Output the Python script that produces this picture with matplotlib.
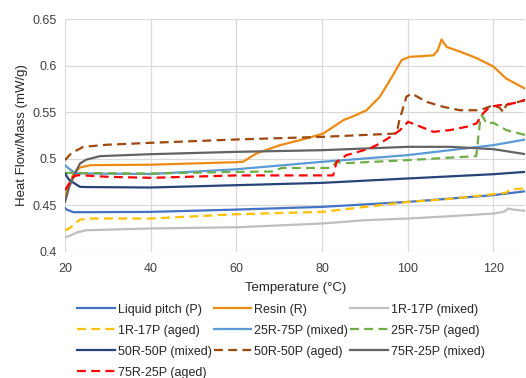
import matplotlib
matplotlib.use("Agg")
import matplotlib.pyplot as plt
from matplotlib.ticker import FuncFormatter

plt.rcParams['font.family'] = ['Liberation Sans', 'DejaVu Sans']

# ---- data ----
lp_T = [20, 20.5, 22, 25, 40, 60, 80, 100, 120, 127.5]
lp_V = [0.447, 0.445, 0.4425, 0.4425, 0.4428, 0.4453, 0.4482, 0.4535, 0.4608, 0.465]

resin_T = [20, 21, 22, 23.5, 26, 40, 60, 61.6, 64.7, 70.2, 76.4, 80.3, 85, 87, 90.4, 93.5,
           96.6, 98.6, 100.5, 103, 106, 107, 107.9, 109.1, 112.2, 116.1, 120, 123, 127.5]
resin_V = [0.459, 0.472, 0.484, 0.4905, 0.493, 0.4935, 0.4962, 0.4968, 0.5056, 0.5145, 0.5217,
           0.527, 0.5414, 0.545, 0.552, 0.5665, 0.590, 0.606, 0.6095, 0.610, 0.611, 0.616,
           0.628, 0.620, 0.615, 0.608, 0.599, 0.586, 0.575]

r1_mix_T = [20, 21, 23, 25, 40, 60, 80, 90, 100, 110, 120, 122.5, 123.5, 125, 127.5]
r1_mix_V = [0.4153, 0.417, 0.421, 0.4231, 0.425, 0.4263, 0.4303, 0.4339, 0.4357, 0.4382,
            0.441, 0.443, 0.4464, 0.445, 0.4439]

r1_aged_T = [20, 21, 23.5, 26, 40, 60, 80, 100, 110, 120, 123, 124, 127.5]
r1_aged_V = [0.4231, 0.425, 0.4346, 0.4357, 0.4357, 0.4403, 0.4428, 0.4535, 0.4568, 0.4618,
             0.4635, 0.467, 0.468]

r25_mix_T = [20, 21, 22.3, 25, 40, 60, 80, 100, 120, 127.5]
r25_mix_V = [0.493, 0.489, 0.4845, 0.484, 0.4835, 0.4886, 0.4966, 0.5038, 0.5145, 0.5206]

r25_aged_T = [20, 40, 60, 68.5, 70.6, 82, 83.4, 85, 100, 116, 116.9, 117.3, 118.4, 120,
              123.1, 127.5]
r25_aged_V = [0.4847, 0.4840, 0.4858, 0.4862, 0.490, 0.490, 0.4966, 0.4950, 0.4984, 0.5027,
              0.540, 0.5468, 0.538, 0.5385, 0.5306, 0.5253]

r50_mix_T = [20, 21, 23.5, 25, 40, 60, 80, 100, 120, 127.5]
r50_mix_V = [0.484, 0.477, 0.4697, 0.4695, 0.469, 0.4715, 0.474, 0.4787, 0.4833, 0.4858]

r50_aged_T = [20, 21.5, 24.3, 30, 40, 60, 80, 97.4, 98, 99.7, 100.9, 104.4, 108.3, 112.2,
              116.9, 120, 121.5, 122.3, 123, 127.5]
r50_aged_V = [0.4984, 0.506, 0.5127, 0.515, 0.517, 0.5206, 0.5234, 0.527, 0.54, 0.5665,
              0.570, 0.561, 0.5557, 0.552, 0.552, 0.5575, 0.5545, 0.550, 0.5575, 0.563]

r75_mix_T = [20, 21, 22.7, 23.5, 25, 28.2, 40, 60, 80, 100, 110, 120, 127.5]
r75_mix_V = [0.4535, 0.47, 0.4876, 0.4948, 0.499, 0.5027, 0.5048, 0.5073, 0.5091, 0.5127,
             0.5127, 0.5102, 0.5048]

r75_aged_T = [20, 21.9, 23, 30, 40, 60, 80, 82.6, 83.4, 85.7, 91.2, 93.5, 96.6, 98.2, 100.1,
              102.1, 106, 109.8, 113.7, 116.1, 117.6, 119.2, 121.5, 124.6, 127.5]
r75_aged_V = [0.466, 0.4805, 0.4823, 0.4805, 0.4794, 0.482, 0.482, 0.482, 0.4966, 0.5037,
              0.511, 0.5163, 0.5253, 0.5306, 0.5396, 0.536, 0.5288, 0.5306, 0.5342, 0.538,
              0.5486, 0.5557, 0.5575, 0.5594, 0.563]

labels = ["Liquid pitch (P)", "Resin (R)", "1R-17P (mixed)", "1R-17P (aged)",
          "25R-75P (mixed)", "25R-75P (aged)", "50R-50P (mixed)", "50R-50P (aged)",
          "75R-25P (mixed)", "75R-25P (aged)"]
x_ticks = [20, 40, 60, 80, 100, 120]
y_ticks = [0.4, 0.45, 0.5, 0.55, 0.6, 0.65]

series = [(lp_T, lp_V), (resin_T, resin_V), (r1_mix_T, r1_mix_V), (r1_aged_T, r1_aged_V),
          (r25_mix_T, r25_mix_V), (r25_aged_T, r25_aged_V), (r50_mix_T, r50_mix_V),
          (r50_aged_T, r50_aged_V), (r75_mix_T, r75_mix_V), (r75_aged_T, r75_aged_V)]
colors = ["#4472C4", "#EE8A12", "#BFBFBF", "#FFC000", "#5B9BD5", "#70AD47",
          "#264478", "#9E480E", "#636363", "#FF0000"]
dashed = [False, False, False, True, False, True, False, True, False, True]

fig = plt.figure(figsize=(5.26, 3.78), dpi=100)
ax = fig.add_axes([0.1236, 0.334, 0.8754, 0.6157])

handles = []
for (T, V), c, d, lab in zip(series, colors, dashed, labels):
    if d:
        ln, = ax.plot(T, V, color=c, lw=1.6, linestyle=(0, (4, 2.4)), label=lab)
    else:
        ln, = ax.plot(T, V, color=c, lw=1.6, label=lab)
    handles.append(ln)

ax.set_xlim(20, 127.5)
ax.set_ylim(0.4, 0.65)
ax.set_xticks(x_ticks)
ax.set_yticks(y_ticks)
ax.yaxis.set_major_formatter(FuncFormatter(lambda v, p: f"{v:g}"))
ax.grid(True, color="#D9D9D9", lw=0.9)
ax.set_axisbelow(True)
for s in ax.spines.values():
    s.set_visible(False)
ax.tick_params(length=0, labelsize=9, colors="#404040")
ax.tick_params(axis='x', pad=8)
ax.tick_params(axis='y', pad=6)
ax.set_xlabel("Temperature (°C)", fontsize=9.5, color="#262626", labelpad=5)
ax.set_ylabel("Heat Flow/Mass (mW/g)", fontsize=9.5, color="#262626", labelpad=3)

order = [0, 3, 6, 9, 1, 4, 7, 2, 5, 8]
leg = fig.legend([handles[i] for i in order], [labels[i] for i in order],
                 ncol=3, loc="upper left", bbox_to_anchor=(0.147, 0.197),
                 frameon=False, fontsize=9, handlelength=3.0, handletextpad=0.25,
                 columnspacing=0.15, labelspacing=0.72, borderaxespad=0, borderpad=0)
for t in leg.get_texts():
    t.set_color("#262626")

fig.savefig("out.png", dpi=100)
